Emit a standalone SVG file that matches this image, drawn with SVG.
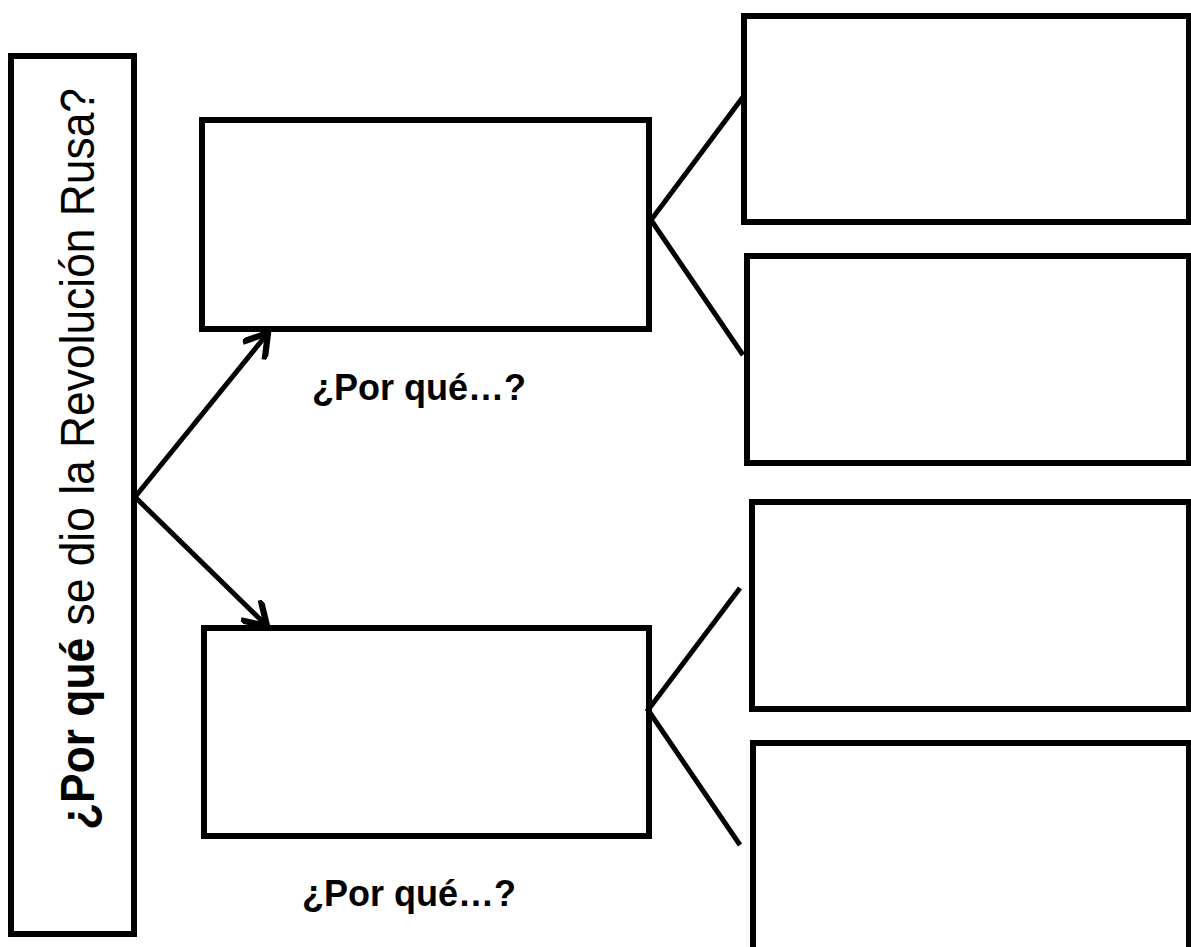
<svg xmlns="http://www.w3.org/2000/svg" width="1191" height="947" viewBox="0 0 1191 947">
<style>
.box{fill:#fff;stroke:#000;stroke-width:6}
.con{fill:none;stroke:#000;stroke-width:5}
.lbl{font-family:"Liberation Sans",Arial,sans-serif;font-weight:bold;font-size:36px;fill:#000}
.title{font-family:"Liberation Sans",Arial,sans-serif;font-size:49px;fill:#000}
</style>
<defs>
<marker id="arr" markerUnits="userSpaceOnUse" markerWidth="30" markerHeight="30" refX="20" refY="12" orient="auto" viewBox="0 0 24 24">
<path d="M4,2 L20,12 L4,22" fill="none" stroke="#000" stroke-width="5" stroke-linecap="square"/>
</marker>
</defs>
<rect width="1191" height="947" fill="#fff"/>
<g id="root">
<rect class="box" x="11" y="56" width="123" height="878"/>
<text class="title" transform="translate(94,830) rotate(-90)" textLength="742" lengthAdjust="spacingAndGlyphs"><tspan font-weight="bold">¿Por qué</tspan> se dio la Revolución Rusa?</text>
</g>
<g id="why1">
<rect class="box" x="202" y="120" width="447" height="209"/>
</g>
<g id="why2">
<rect class="box" x="204" y="628" width="445" height="208"/>
</g>
<g id="r1"><rect class="box" x="744" y="16" width="445" height="206"/></g>
<g id="r2"><rect class="box" x="747" y="256" width="442" height="207"/></g>
<g id="r3"><rect class="box" x="752" y="502" width="437" height="207"/></g>
<g id="r4"><rect class="box" x="753" y="743" width="436" height="220"/></g>
<g id="label1"><text class="lbl" x="312" y="400">¿Por qué…?</text></g>
<g id="label2"><text class="lbl" x="302" y="906">¿Por qué…?</text></g>
<g id="connectors">
<line class="con" x1="135" y1="497" x2="268" y2="333" marker-end="url(#arr)"/>
<line class="con" x1="135" y1="497" x2="267" y2="626" marker-end="url(#arr)"/>
<polyline class="con" points="743,97 651,220 743,355"/>
<polyline class="con" points="740,588 648,710 740,845"/>
</g>
</svg>
